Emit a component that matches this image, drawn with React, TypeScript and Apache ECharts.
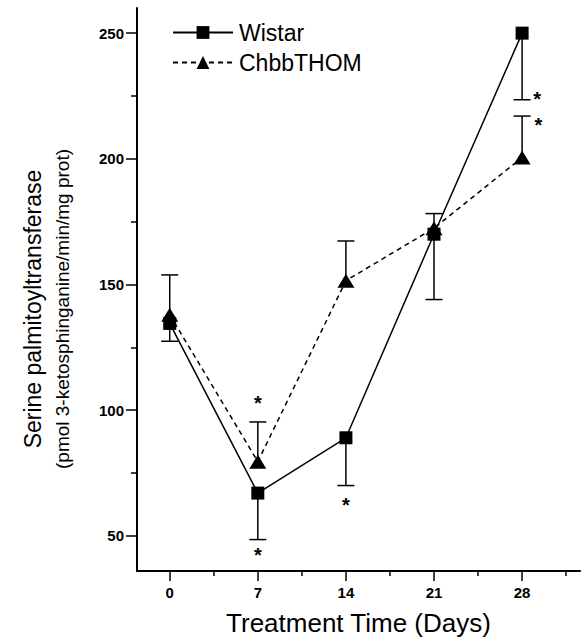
import React, { useEffect, useRef } from "react";
import * as echarts from "echarts";

const days = [0, 7, 14, 21, 28];
const wistar = [134.5, 67, 89, 170, 250];
const wistarLow = [127.4, 48.5, 70, 144, 223.5];
const chbb = [138, 79.5, 151.5, 172.4, 200.5];
const chbbHigh = [153.8, 95.3, 167.3, 178.2, 217];
const xTicks = [0, 7, 14, 21, 28];
const xMinorTicks = [3.5, 10.5, 17.5, 24.5, 31.5];
const yTicks = [50, 100, 150, 200, 250];
const yMinorTicks = [75, 125, 175, 225];
const asterisks = [
  [7, 104.3],
  [7, 44],
  [14, 64],
  [29.2, 225.4],
  [29.3, 214.9],
];

const FONT = '"Liberation Sans", Arial, sans-serif';

export default function App() {
  const ref = useRef<HTMLDivElement>(null);
  useEffect(() => {
    document.body.style.margin = "0";
    const chart = echarts.init(ref.current!, null, { renderer: "svg" });
    const errData = [
      ...days.map((d, i) => [d, wistar[i], wistarLow[i]]),
      ...days.map((d, i) => [d, chbb[i], chbbHigh[i]]),
    ];
    const xMin = -2.6;
    const xMax = 32.6;
    const yMin = 36;
    const yMax = 260;
    chart.setOption({
      animation: false,
      backgroundColor: "#fff",
      grid: { left: 137, top: 8, right: 2, bottom: 68, containLabel: false },
      legend: {
        orient: "vertical",
        left: 172,
        top: 21,
        padding: 0,
        itemWidth: 60,
        itemHeight: 16,
        itemGap: 7,
        data: ["Wistar", "ChbbTHOM"],
        textStyle: { fontSize: 23, fontFamily: FONT, color: "#000", padding: [0, 0, 0, 1] },
      },
      xAxis: [
        {
          type: "value",
          min: xMin,
          max: xMax,
          name: "Treatment Time (Days)",
          nameLocation: "middle",
          nameGap: 39,
          nameTextStyle: { fontSize: 26, fontFamily: FONT, color: "#000" },
          axisLine: { show: true, onZero: false, lineStyle: { color: "#000", width: 2 } },
          axisTick: { show: true, customValues: xTicks, length: 10, lineStyle: { color: "#000", width: 1.5 } },
          axisLabel: {
            customValues: xTicks,
            margin: 14,
            fontSize: 15,
            fontWeight: "bold",
            fontFamily: FONT,
            color: "#000",
          },
          splitLine: { show: false },
        },
        {
          type: "value",
          min: xMin,
          max: xMax,
          position: "bottom",
          axisLine: { show: false, onZero: false },
          axisTick: { show: true, customValues: xMinorTicks, length: 5, lineStyle: { color: "#000", width: 1.5 } },
          axisLabel: { show: false },
          splitLine: { show: false },
        },
      ],
      yAxis: [
        {
          type: "value",
          min: yMin,
          max: yMax,
          axisLine: { show: true, onZero: false, lineStyle: { color: "#000", width: 2 } },
          axisTick: { show: true, customValues: yTicks, length: 11, lineStyle: { color: "#000", width: 1.5 } },
          axisLabel: {
            customValues: yTicks,
            margin: 13,
            fontSize: 15,
            fontWeight: "bold",
            fontFamily: FONT,
            color: "#000",
          },
          splitLine: { show: false },
        },
        {
          type: "value",
          min: yMin,
          max: yMax,
          position: "left",
          axisLine: { show: false, onZero: false },
          axisTick: { show: true, customValues: yMinorTicks, length: 6, lineStyle: { color: "#000", width: 1.5 } },
          axisLabel: { show: false },
          splitLine: { show: false },
        },
      ],
      graphic: [
        {
          type: "text",
          x: 33,
          y: 309,
          rotation: Math.PI / 2,
          style: {
            text: "Serine palmitoyltransferase",
            fontSize: 23,
            fontFamily: FONT,
            fill: "#000",
            align: "center",
            verticalAlign: "middle",
          },
        },
        {
          type: "text",
          x: 62,
          y: 309,
          rotation: Math.PI / 2,
          style: {
            text: "(pmol 3-ketosphinganine/min/mg prot)",
            fontSize: 19,
            fontFamily: FONT,
            fill: "#000",
            align: "center",
            verticalAlign: "middle",
          },
        },
      ],
      series: [
        {
          type: "custom",
          name: "err",
          z: 1,
          silent: true,
          data: errData,
          encode: { x: 0, y: [1, 2] },
          renderItem: (params: any, api: any) => {
            const x = api.value(0);
            const p0 = api.coord([x, api.value(1)]);
            const p1 = api.coord([x, api.value(2)]);
            return {
              type: "group",
              children: [
                {
                  type: "line",
                  shape: { x1: p0[0], y1: p0[1], x2: p1[0], y2: p1[1] },
                  style: { stroke: "#000", lineWidth: 1.5 },
                },
                {
                  type: "line",
                  shape: { x1: p1[0] - 8.5, y1: p1[1], x2: p1[0] + 8.5, y2: p1[1] },
                  style: { stroke: "#000", lineWidth: 1.5 },
                },
              ],
            };
          },
        },
        {
          type: "line",
          name: "Wistar",
          z: 3,
          data: days.map((d, i) => [d, wistar[i]]),
          symbol: "rect",
          symbolSize: 13,
          itemStyle: { color: "#000" },
          lineStyle: { color: "#000", width: 1.5 },
        },
        {
          type: "line",
          name: "ChbbTHOM",
          z: 3,
          data: days.map((d, i) => [d, chbb[i]]),
          symbol: "triangle",
          symbolSize: [17, 14],
          itemStyle: { color: "#000" },
          lineStyle: { color: "#000", width: 1.5, type: [5, 4] },
        },
        {
          type: "custom",
          name: "sig",
          z: 4,
          silent: true,
          data: asterisks,
          encode: { x: 0, y: 1 },
          renderItem: (params: any, api: any) => {
            const p = api.coord([api.value(0), api.value(1)]);
            return {
              type: "text",
              x: p[0],
              y: p[1] + 4,
              style: {
                text: "*",
                fill: "#000",
                fontSize: 20,
                fontWeight: "bold",
                fontFamily: FONT,
                align: "center",
                verticalAlign: "middle",
              },
            };
          },
        },
      ],
    });
    return () => chart.dispose();
  }, []);
  return (
    <div
      ref={ref}
      style={{ position: "fixed", left: 0, top: 0, width: 582, height: 641 }}
    />
  );
}
